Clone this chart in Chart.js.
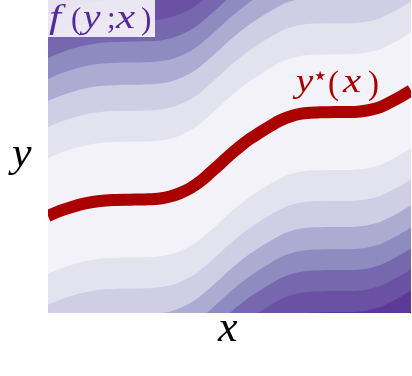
<!DOCTYPE html>
<html><head><meta charset="utf-8">
<script src="https://cdn.jsdelivr.net/npm/chart.js@4/dist/chart.umd.min.js"></script>
<style>html,body{margin:0;padding:0;background:#fff;overflow:hidden}</style>
</head><body>
<canvas id="c" width="412" height="376"></canvas>
<script>
// optimum curve y*(x) (x and y both on 0..1 axes)
const curveX = [0.000,0.033,0.066,0.102,0.143,0.185,0.226,0.267,0.309,0.336,0.364,0.391,0.419,0.446,0.474,0.501,0.529,0.556,0.584,0.612,0.639,0.667,0.694,0.722,0.749,0.791,0.832,0.860,0.887,0.915,0.942,0.970,1.000];
const curveY = [0.310,0.326,0.339,0.350,0.358,0.361,0.362,0.363,0.366,0.372,0.383,0.398,0.420,0.447,0.476,0.505,0.532,0.556,0.577,0.597,0.615,0.628,0.636,0.640,0.641,0.642,0.642,0.644,0.649,0.658,0.673,0.690,0.711];
// contour levels of f(y;x): vertical distance of each level line from y*(x)
const contourOffsets = [0.185,0.284,0.367,0.438,0.505,0.572,0.639,0.706];
// band colours, innermost (lowest f) first
const bandColors = ['#f3f2f8','#e3e2ef','#cfcee4','#adabd2','#8e8bc0','#7767af','#6a51a3','#5d3a98','#4e1b8b'];

const n = contourOffsets.length;
const signed = [];
const below = [];
for (let j = n - 1; j >= 0; j--) { signed.push(-contourOffsets[j]); below.push(bandColors[j + 1]); }
for (let j = 0; j < n; j++) { signed.push(contourOffsets[j]); below.push(bandColors[j]); }

const datasets = [{
  data: curveX.map((x, i) => ({x, y: curveY[i]})),
  borderColor: '#aa0000', borderWidth: 12, borderCapStyle: 'butt', borderJoinStyle: 'round',
  cubicInterpolationMode: 'monotone', pointRadius: 0, fill: false, order: 0
}];
signed.forEach((s, k) => {
  datasets.push({
    data: curveX.map((x, i) => ({x, y: curveY[i] + s})),
    borderWidth: 0, borderColor: 'rgba(0,0,0,0)', backgroundColor: below[k],
    cubicInterpolationMode: 'monotone', pointRadius: 0, fill: 'start', order: 1 + k
  });
});

function glyphs(ctx, list, color) {
  ctx.fillStyle = color; ctx.textAlign = 'left'; ctx.textBaseline = 'alphabetic';
  list.forEach(g => {
    ctx.save(); ctx.font = g.f; ctx.translate(g.x, g.y); ctx.scale(g.sx || 1, 1);
    ctx.fillText(g.t, 0, 0); ctx.restore();
  });
}

const decor = {
  id: 'decor',
  beforeDraw(chart) {
    const {ctx, chartArea: a} = chart;
    ctx.save(); ctx.fillStyle = bandColors[8];
    ctx.fillRect(a.left, a.top, a.right - a.left, a.bottom - a.top); ctx.restore();
  },
  afterDatasetsDraw(chart) {
    const {ctx, chartArea: a} = chart;
    ctx.save();
    ctx.fillStyle = 'rgba(255,255,255,0.86)';
    ctx.fillRect(a.left, a.top, 107, 37);
    const I = 'italic 33px "Liberation Serif"', R = '31px "Liberation Serif"';
    const L = a.left;
    glyphs(ctx, [
      {t:'f', f:I, x:L+1, y:28, sx:1.3}, {t:'(', f:R, x:L+23, y:29}, {t:'y', f:I, x:L+35, y:28, sx:1.2},
      {t:';', f:R, x:L+59, y:28}, {t:'x', f:I, x:L+68, y:28, sx:1.3}, {t:')', f:R, x:L+93, y:29}
    ], '#55299a');
    const I2 = 'italic 34px "Liberation Serif"', R2 = '33px "Liberation Serif"';
    glyphs(ctx, [
      {t:'y', f:I2, x:296, y:92, sx:1.15}, {t:'\u22C6', f:'26px "DejaVu Sans"', x:312, y:84},
      {t:'(', f:R2, x:328, y:94}, {t:'x', f:I2, x:343, y:92, sx:1.2}, {t:')', f:R2, x:368, y:94}
    ], '#aa0000');
    ctx.restore();
  },
  afterDraw(chart) {
    const {ctx, chartArea: a} = chart;
    ctx.save();
    glyphs(ctx, [
      {t:'y', f:'italic 40px "Liberation Serif"', x:a.left - 36, y:166, sx:1.1},
      {t:'x', f:'italic 44px "Liberation Serif"', x:a.left + 170, y:a.bottom + 28}
    ], '#000000');
    ctx.restore();
  }
};

new Chart(document.getElementById('c'), {
  type: 'line',
  data: {datasets},
  options: {
    responsive: false, animation: false, devicePixelRatio: 1, events: [],
    layout: {padding: {left: 48, right: 1, top: 0, bottom: 63}},
    scales: {
      x: {type: 'linear', min: 0, max: 1, display: false},
      y: {type: 'linear', min: 0, max: 1, display: false}
    },
    plugins: {legend: {display: false}, tooltip: {enabled: false}, filler: {propagate: false}}
  },
  plugins: [decor]
});
</script>
</body></html>
